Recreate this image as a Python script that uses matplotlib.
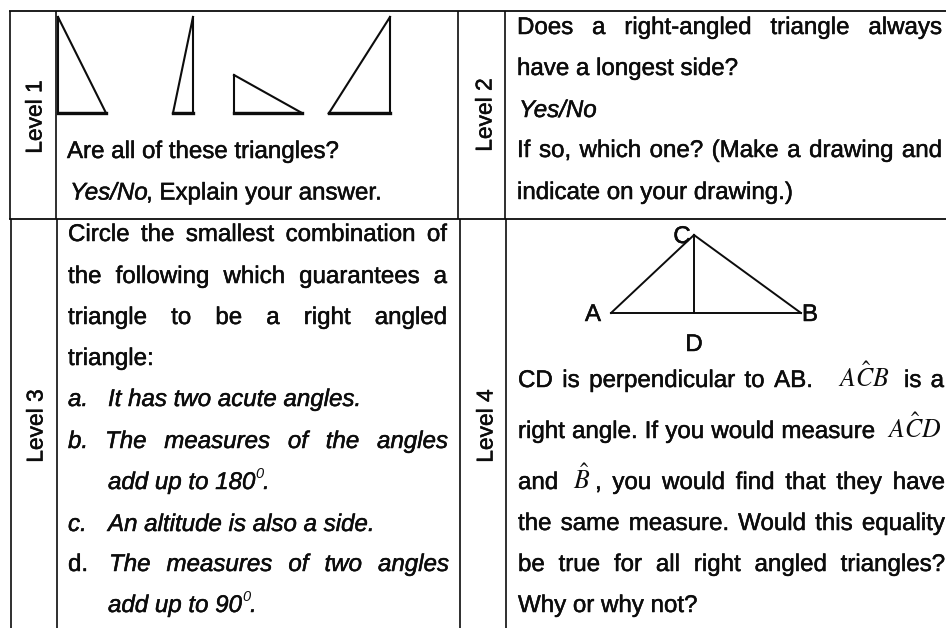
import matplotlib
matplotlib.use("Agg")
import matplotlib.pyplot as plt
import matplotlib.patheffects as pe

plt.rcParams['font.family'] = ['Liberation Sans', 'DejaVu Sans']
plt.rcParams['mathtext.fontset'] = 'stix'

INK = '#0c0c0c'
FS = 17.35
BOLDEN = [pe.withStroke(linewidth=0.35, foreground=INK)]

# table grid
h_rules = [(11, 9, 946), (219, 9, 946)]
v_rules = [(9.5, 11, 219), (55.5, 11, 219), (458, 11, 219), (505, 11, 219),
           (10.5, 219, 628), (57, 219, 628), (460, 219, 628), (506, 219, 628)]

# side labels
level_labels = [("Level 1", 35, 117), ("Level 2", 485, 115), ("Level 3", 36, 426), ("Level 4", 486, 426)]

# four triangles of the level 1 question
triangles = [
    [(58, 17), (58, 113), (106, 113)],
    [(193, 17), (193, 113), (173, 113)],
    [(234, 75), (234, 113), (302, 113)],
    [(390, 17), (390, 113), (329, 113)],
]

# level 4 figure
pt_A, pt_B, pt_C, pt_D = (611, 313), (801, 313), (694, 235), (694, 313)
fig_labels = [("A", 593, 321), ("B", 810, 321), ("C", 682, 243), ("D", 694, 351)]

# text lines: text, baseline, left, right (None = natural), style
lines = [
    ("Are all of these triangles?", 158, 67, None, 'normal'),
    ("Yes/No", 199.5, 70, None, 'italic'),
    (", Explain your answer.", 199.5, 146, None, 'normal'),
    ("Circle the smallest combination of", 241, 68, 447, 'normal'),
    ("the following which guarantees a", 283, 68, 447, 'normal'),
    ("triangle to be a right angled", 324, 68, 447, 'normal'),
    ("triangle:", 365, 68, None, 'normal'),
    ("a.", 406, 68, None, 'italic'),
    ("It has two acute angles.", 406, 108, None, 'italic'),
    ("b.", 448, 68, None, 'italic'),
    ("The measures of the angles", 448, 105, 448, 'italic'),
    ("add up to 180", 489, 108, None, 'italic'),
    (".", 489, 263, None, 'italic'),
    ("c.", 531, 68, None, 'italic'),
    ("An altitude is also a side.", 531, 108, None, 'italic'),
    ("d.", 571, 68, None, 'normal'),
    ("The measures of two angles", 571, 109, 449, 'italic'),
    ("add up to 90", 612, 108, None, 'italic'),
    (".", 612, 250, None, 'italic'),
    ("Does a right-angled triangle always", 34, 517, 942, 'normal'),
    ("have a longest side?", 75, 517, None, 'normal'),
    ("Yes/No", 117, 519, None, 'italic'),
    ("If so, which one? (Make a drawing and", 157, 517, 942, 'normal'),
    ("indicate on your drawing.)", 199, 517, None, 'normal'),
    ("CD is perpendicular to AB.", 387, 518, 813, 'normal'),
    ("is a", 387, 904, 944, 'normal'),
    ("right angle. If you would measure", 438, 518, 875, 'normal'),
    ("and", 489, 518, None, 'normal'),
    (", you would find that they have", 489, 595, 945, 'normal'),
    ("the same measure. Would this equality", 530, 518, 945, 'normal'),
    ("be true for all right angled triangles?", 571, 518, 945, 'normal'),
    ("Why or why not?", 612, 518, None, 'normal'),
]

# superscript degree marks and angle names
superscripts = [("0", 255, 478), ("0", 242, 601)]
angle_names = [(r"$A\hat{C}B$", 838, 387), (r"$A\hat{C}D$", 887, 438), (r"$\hat{B}$", 573, 489)]

fig = plt.figure(figsize=(9.46, 6.28), dpi=100)
ax = fig.add_axes([0, 0, 1, 1])
ax.set_xlim(0, 946)
ax.set_ylim(628, 0)
ax.axis('off')
renderer = fig.canvas.get_renderer()


def put(text, y, x0, x1, style):
    kw = dict(fontsize=FS, style=style, color=INK, va='baseline', ha='left', path_effects=BOLDEN)
    if x1 is None:
        ax.text(x0, y, text, **kw)
        return
    words = text.split()
    arts = [ax.text(x0, y, w, **kw) for w in words]
    widths = [a.get_window_extent(renderer).width for a in arts]
    gap = (x1 - x0 - sum(widths)) / (len(words) - 1)
    x = x0
    for a, w in zip(arts, widths):
        a.set_x(x)
        x += w + gap


for y, a, b in h_rules:
    ax.plot([a, b], [y, y], color=INK, lw=1.3, solid_capstyle='butt')
for x, a, b in v_rules:
    ax.plot([x, x], [a, b], color=INK, lw=1.2, solid_capstyle='butt')

for tri in triangles:
    xs = [p[0] for p in tri] + [tri[0][0]]
    ys = [p[1] for p in tri] + [tri[0][1]]
    ax.plot(xs, ys, color=INK, lw=1.5, solid_joinstyle='miter')
    ax.plot([tri[1][0], tri[2][0]], [tri[1][1], tri[2][1]], color=INK, lw=2.4)

for seg in [(pt_A, pt_C), (pt_C, pt_B), (pt_A, pt_B), (pt_C, pt_D)]:
    ax.plot([seg[0][0], seg[1][0]], [seg[0][1], seg[1][1]], color=INK, lw=1.4)

for t, x, y in level_labels:
    ax.text(x, y, t, rotation=90, fontsize=16.4, color=INK, ha='center', va='center', path_effects=BOLDEN)
for t, x, y in fig_labels:
    ax.text(x, y, t, fontsize=FS, color=INK, ha='center', va='baseline', path_effects=BOLDEN)
for t, y, a, b, s in lines:
    put(t, y, a, b, s)
for t, x, y in superscripts:
    ax.text(x, y, t, fontsize=10.5, style='italic', color=INK, ha='left', va='baseline')
for t, x, y in angle_names:
    ax.text(x, y, t, fontsize=18.5, color=INK, ha='left', va='baseline')

fig.savefig("out.png", dpi=100)
